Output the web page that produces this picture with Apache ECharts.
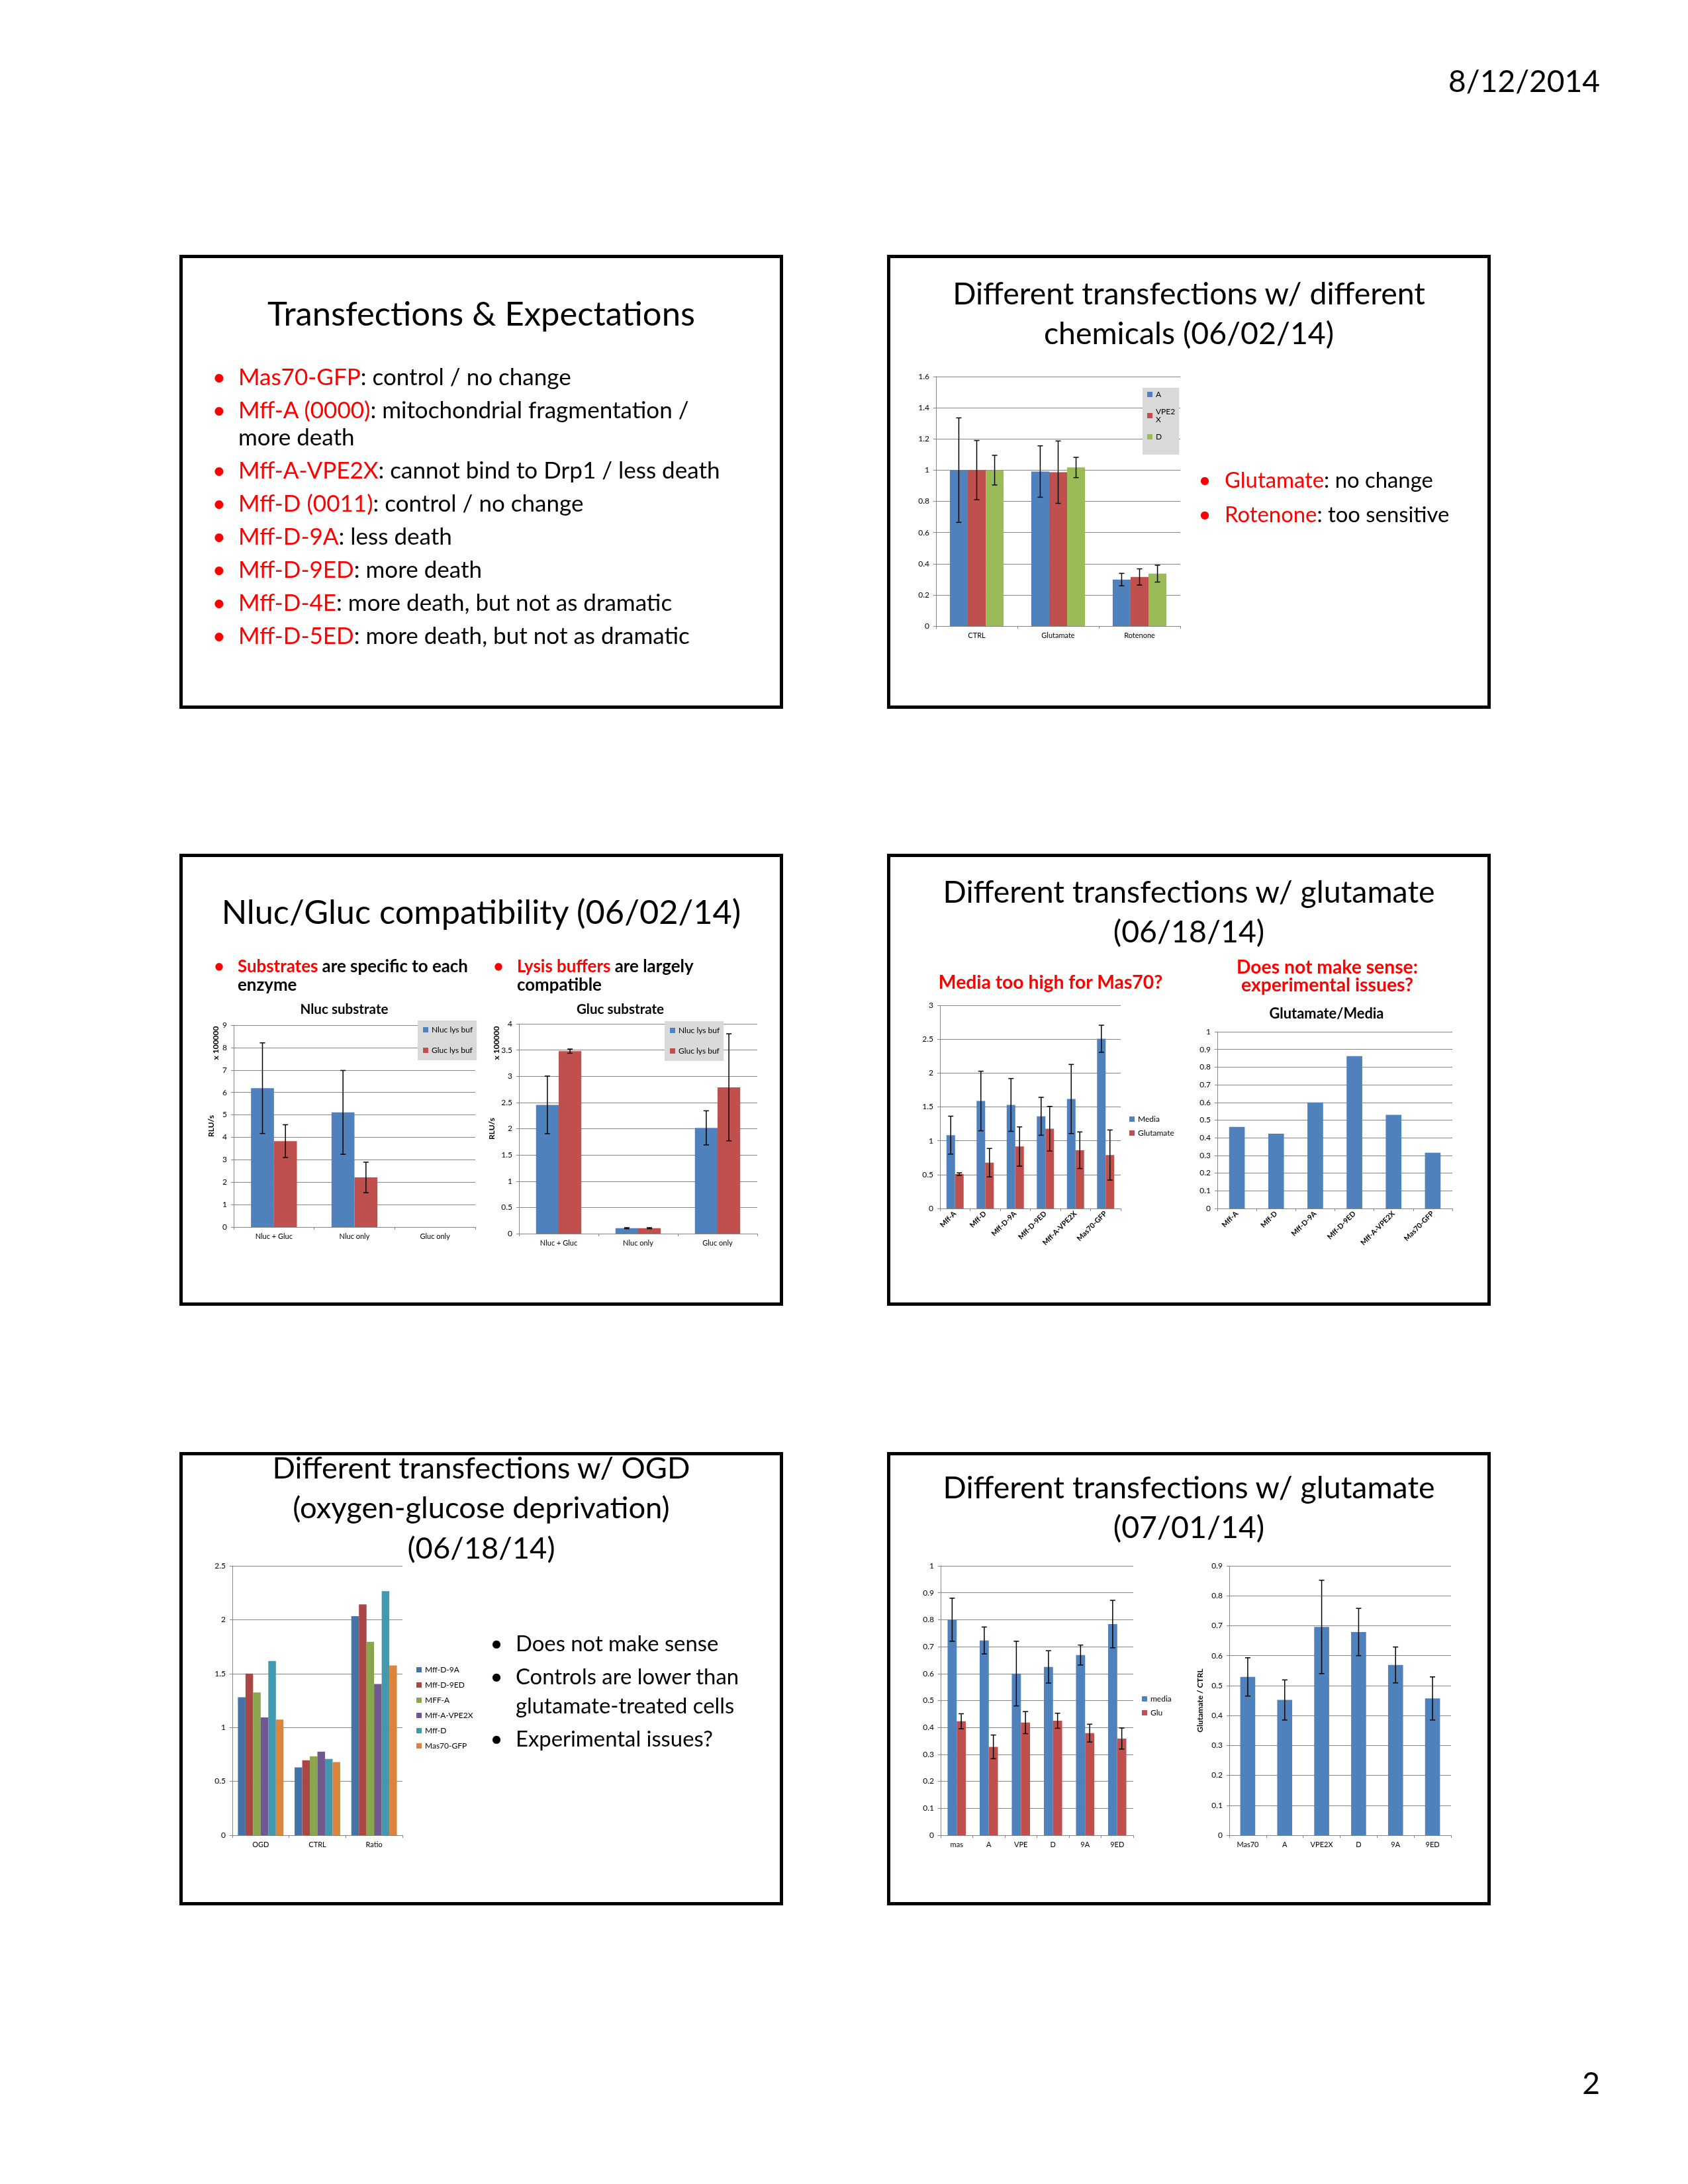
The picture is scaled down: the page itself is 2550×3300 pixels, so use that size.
<!DOCTYPE html>
<html><head><meta charset="utf-8">
<script src="https://cdn.jsdelivr.net/npm/echarts@6/dist/echarts.min.js"></script>
<style>
html,body{margin:0;padding:0;background:#fff;}
#page{position:relative;width:2550px;height:3300px;overflow:hidden;font-family:Lato,"Open Sans",sans-serif;}
#chart{position:absolute;left:0;top:0;width:2550px;height:3300px;z-index:0;}
.slide{position:absolute;border:5px solid #000;box-sizing:border-box;z-index:1;pointer-events:none;}
.t{position:absolute;white-space:nowrap;color:#000;line-height:1;z-index:2;}
</style></head>
<body><div id="page"><div id="chart"></div></div>
<script>
// ================= DATA =================
const chemCats = ['CTRL', 'Glutamate', 'Rotenone'];
const chemA = [1, 0.991, 0.298];
const chemAErr = [0.335, 0.165, 0.04];
const chemVPE = [1, 0.987, 0.315];
const chemVPEErr = [0.19, 0.2, 0.052];
const chemD = [1, 1.017, 0.336];
const chemDErr = [0.095, 0.065, 0.054];

const compatCats = ['Nluc + Gluc', 'Nluc only', 'Gluc only'];
const nlucSubNlucBuf = [6.19, 5.11, 0];
const nlucSubNlucBufErr = [2.02, 1.87, 0];
const nlucSubGlucBuf = [3.83, 2.21, 0];
const nlucSubGlucBufErr = [0.73, 0.68, 0];
const glucSubNlucBuf = [2.454, 0.104, 2.017];
const glucSubNlucBufErr = [0.55, 0.01, 0.325];
const glucSubGlucBuf = [3.479, 0.104, 2.79];
const glucSubGlucBufErr = [0.04, 0.01, 1.02];

const glu18Cats = ['Mff-A', 'Mff-D', 'Mff-D-9A', 'Mff-D-9ED', 'Mff-A-VPE2X', 'Mas70-GFP'];
const glu18Media = [1.083, 1.587, 1.529, 1.361, 1.617, 2.506];
const glu18MediaErr = [0.28, 0.44, 0.39, 0.28, 0.51, 0.2];
const glu18Glu = [0.508, 0.676, 0.915, 1.177, 0.86, 0.789];
const glu18GluErr = [0.018, 0.21, 0.29, 0.33, 0.27, 0.37];
const glu18Ratio = [0.462, 0.423, 0.6, 0.862, 0.53, 0.316];

const ogdCats = ['OGD', 'CTRL', 'Ratio'];
const ogdNames = ['Mff-D-9A', 'Mff-D-9ED', 'MFF-A', 'Mff-A-VPE2X', 'Mff-D', 'Mas70-GFP'];
const ogd9A = [1.28, 0.629, 2.033];
const ogd9ED = [1.5, 0.696, 2.142];
const ogdMffA = [1.325, 0.732, 1.795];
const ogdVPE2X = [1.093, 0.775, 1.404];
const ogdMffD = [1.617, 0.708, 2.265];
const ogdMas70 = [1.074, 0.678, 1.575];

const glu01Cats = ['mas', 'A', 'VPE', 'D', '9A', '9ED'];
const glu01Media = [0.8, 0.723, 0.6, 0.625, 0.669, 0.784];
const glu01MediaErr = [0.08, 0.05, 0.12, 0.06, 0.037, 0.088];
const glu01Glu = [0.423, 0.328, 0.418, 0.425, 0.379, 0.359];
const glu01GluErr = [0.028, 0.044, 0.041, 0.028, 0.033, 0.039];
const ratio01Cats = ['Mas70', 'A', 'VPE2X', 'D', '9A', '9ED'];
const ratio01 = [0.529, 0.452, 0.696, 0.679, 0.569, 0.457];
const ratio01Err = [0.064, 0.067, 0.156, 0.079, 0.06, 0.072];

// ================= STYLE =================
const FONT = 'Lato, "Open Sans", sans-serif';
const RED = '#ff0000';
const AX = '#868686';
const BLUE = '#4f81bd', DRED = '#c0504d', GREEN = '#9bbb59';
const OGD_COLORS = ['#4572a7', '#aa4643', '#89a54e', '#71588f', '#4198af', '#db843d'];

const page = document.getElementById('page');
const mctx = document.createElement('canvas').getContext('2d');
function measure(t, wt) { mctx.font = wt + ' 100px ' + FONT; return mctx.measureText(t).width; }
function fit(t, wt, w) { return 100 * w / measure(t, wt); }
function put(segs, x, y, size, align, weight) {
  const d = document.createElement('div');
  d.className = 't';
  d.style.left = x + 'px'; d.style.top = y + 'px';
  d.style.fontSize = size + 'px'; d.style.fontWeight = weight || 400;
  const tx = align === 'center' ? '-50%' : (align === 'right' ? '-100%' : '0');
  d.style.transform = 'translate(' + tx + ',-50%)';
  segs.forEach(s => { const sp = document.createElement('span'); sp.textContent = s[0]; if (s[1]) sp.style.color = s[1]; d.appendChild(sp); });
  page.appendChild(d);
}
function frame(l, t, r, b) {
  const d = document.createElement('div'); d.className = 'slide';
  d.style.left = l + 'px'; d.style.top = t + 'px'; d.style.width = (r - l) + 'px'; d.style.height = (b - t) + 'px';
  page.appendChild(d);
}

// slide frames
frame(271, 385, 1183, 1071); frame(1340, 385, 2252, 1071);
frame(271, 1290, 1183, 1973); frame(1340, 1290, 2252, 1973);
frame(271, 2194, 1183, 2879); frame(1340, 2194, 2252, 2879);

// header / footer
const dateSize = fit('8/12/2014', 400, 229);
put([['8/12/2014']], 2417, 121, dateSize, 'right');
put([['2']], 2417, 3146, dateSize, 'right');

// titles
const t1 = fit('Transfections & Expectations', 400, 646);
put([['Transfections & Expectations']], 727, 473, t1, 'center');
const t2 = fit('Different transfections w/ different', 400, 715);
put([['Different transfections w/ different']], 1796, 442, t2, 'center');
put([['chemicals (06/02/14)']], 1796, 502, t2, 'center');
const t3 = fit('Nluc/Gluc compatibility (06/02/14)', 400, 786);
put([['Nluc/Gluc compatibility (06/02/14)']], 727, 1377, t3, 'center');
const t4 = fit('Different transfections w/ glutamate', 400, 744);
put([['Different transfections w/ glutamate']], 1796, 1346, t4, 'center');
put([['(06/18/14)']], 1796, 1406, t4, 'center');
const t5 = fit('Different transfections w/ OGD', 400, 632);
put([['Different transfections w/ OGD']], 727, 2217, t5, 'center');
put([['(oxygen-glucose deprivation)']], 727, 2277, t5, 'center');
put([['(06/18/14)']], 727, 2338, t5, 'center');
put([['Different transfections w/ glutamate']], 1796, 2246, t4, 'center');
put([['(07/01/14)']], 1796, 2306, t4, 'center');

// slide 1 bullets
const b1 = fit('Mff-A (0000): mitochondrial fragmentation /', 400, 682);
const s1 = [
  [569, [['Mas70-GFP', RED], [': control / no change']], true],
  [619, [['Mff-A (0000)', RED], [': mitochondrial fragmentation /']], true],
  [660, [['more death']], false],
  [710, [['Mff-A-VPE2X', RED], [': cannot bind to Drp1 / less death']], true],
  [760, [['Mff-D (0011)', RED], [': control / no change']], true],
  [810, [['Mff-D-9A', RED], [': less death']], true],
  [860, [['Mff-D-9ED', RED], [': more death']], true],
  [910, [['Mff-D-4E', RED], [': more death, but not as dramatic']], true],
  [960, [['Mff-D-5ED', RED], [': more death, but not as dramatic']], true]
];
s1.forEach(r => { if (r[2]) put([['\u2022', RED]], 331, r[0], b1, 'center'); put(r[1], 360, r[0], b1, 'left'); });

// slide 2 bullets
const b2 = fit('Glutamate: no change', 400, 315);
put([['\u2022', RED]], 1820, 725, b2, 'center');
put([['Glutamate', RED], [': no change']], 1850, 725, b2, 'left');
put([['\u2022', RED]], 1820, 777, b2, 'center');
put([['Rotenone', RED], [': too sensitive']], 1850, 777, b2, 'left');

// slide 3 bullets
const b3 = fit('Substrates are specific to each', 700, 348);
put([['\u2022', RED]], 331, 1460, b3, 'center', 700);
put([['Substrates', RED], [' are specific to each']], 359, 1460, b3, 'left', 700);
put([['enzyme']], 359, 1488, b3, 'left', 700);
put([['\u2022', RED]], 753, 1460, b3, 'center', 700);
put([['Lysis buffers', RED], [' are largely']], 781, 1460, b3, 'left', 700);
put([['compatible']], 781, 1488, b3, 'left', 700);

// slide 4 red notes
const b4 = fit('Media too high for Mas70?', 700, 339);
put([['Media too high for Mas70?', RED]], 1587, 1483, b4, 'center', 700);
put([['Does not make sense:', RED]], 2005, 1460, b4, 'center', 700);
put([['experimental issues?', RED]], 2005, 1487, b4, 'center', 700);

// slide 5 bullets
const b5 = fit('Controls are lower than', 400, 338);
put([['\u2022']], 750, 2483, b5, 'center'); put([['Does not make sense']], 779, 2483, b5, 'left');
put([['\u2022']], 750, 2533, b5, 'center'); put([['Controls are lower than']], 779, 2533, b5, 'left');
put([['glutamate-treated cells']], 779, 2577, b5, 'left');
put([['\u2022']], 750, 2627, b5, 'center'); put([['Experimental issues?']], 779, 2627, b5, 'left');

// ================= CHART =================
const grids = [
  {left: 1414, top: 569, width: 369, height: 377},
  {left: 353, top: 1549, width: 365, height: 305},
  {left: 784, top: 1547, width: 360, height: 317},
  {left: 1420, top: 1519, width: 273, height: 307},
  {left: 1839, top: 1559, width: 355, height: 267},
  {left: 351, top: 2366, width: 257, height: 407},
  {left: 1421, top: 2366, width: 291, height: 407},
  {left: 1857, top: 2366, width: 335, height: 407}
];
function yAx(gi, max, interval, extra) {
  return Object.assign({
    type: 'value', gridIndex: gi, min: 0, max: max, interval: interval,
    axisLine: {show: true, lineStyle: {color: AX, width: 1}},
    axisTick: {show: true, length: 4, lineStyle: {color: AX}},
    splitLine: {show: true, lineStyle: {color: AX, width: 1}},
    axisLabel: {color: '#000', fontSize: 12, fontFamily: FONT, margin: 10}
  }, extra || {});
}
function xAx(gi, data, label) {
  return {
    type: 'category', gridIndex: gi, data: data,
    axisLine: {show: true, lineStyle: {color: AX, width: 1}},
    axisTick: {show: true, length: 4, alignWithLabel: false, interval: 0, lineStyle: {color: AX}},
    axisLabel: Object.assign({color: '#000', fontSize: 11, fontFamily: FONT, margin: 9, interval: 0}, label || {})
  };
}
function bars(gi, name, data, color, width) {
  return {type: 'bar', name: name, xAxisIndex: gi, yAxisIndex: gi, data: data,
    barWidth: width, barGap: '0%', itemStyle: {color: color}, silent: true};
}
function errs(gi, vals, es, idx, n, frac) {
  return {
    type: 'custom', xAxisIndex: gi, yAxisIndex: gi, z: 10, silent: true,
    data: vals.map((v, i) => [i, v, es[i]]),
    encode: {x: 0, y: 1},
    renderItem: function (params, api) {
      const i = api.value(0), v = api.value(1), e = api.value(2);
      if (!e) return null;
      const band = api.size([1, 0])[0];
      const bw = band * frac;
      const c = api.coord([i, v]);
      const x = c[0] + (idx - (n - 1) / 2) * bw;
      const yt = api.coord([i, v + e])[1], yb = api.coord([i, v - e])[1];
      const cap = 4, st = {stroke: '#000', lineWidth: 1.5};
      return {type: 'group', children: [
        {type: 'line', shape: {x1: x, y1: yt, x2: x, y2: yb}, style: st},
        {type: 'line', shape: {x1: x - cap, y1: yt, x2: x + cap, y2: yt}, style: st},
        {type: 'line', shape: {x1: x - cap, y1: yb, x2: x + cap, y2: yb}, style: st}
      ]};
    }
  };
}
const legTxt = {fontSize: 12, fontFamily: FONT, color: '#000'};
function leg(data, left, top, gap, extra) {
  return Object.assign({data: data, left: left, top: top, orient: 'vertical', icon: 'rect',
    itemWidth: 8, itemHeight: 8, itemGap: gap, padding: 0, textStyle: legTxt, selectedMode: false}, extra || {});
}
const rot = {rotate: 45, fontWeight: 'bold', margin: 6};

const ctSize = fit('Nluc substrate', 700, 133);
const ct3Size = fit('Glutamate/Media', 700, 173);
function gtext(txt, x, y, size, rotate) {
  return {type: 'text', x: x, y: y, rotation: rotate ? Math.PI / 2 : 0, z: 20,
    style: {text: txt, fill: '#000', font: 'bold ' + size + 'px ' + FONT, align: 'center', verticalAlign: 'middle'}};
}
const yName = {fontWeight: 'bold', fontSize: 12, fontFamily: FONT, color: '#000'};

const option = {
  animation: false,
  backgroundColor: 'transparent',
  grid: grids,
  xAxis: [
    xAx(0, chemCats), xAx(1, compatCats), xAx(2, compatCats), xAx(3, glu18Cats, rot),
    xAx(4, glu18Cats, rot), xAx(5, ogdCats), xAx(6, glu01Cats), xAx(7, ratio01Cats)
  ],
  yAxis: [
    yAx(0, 1.6, 0.2),
    yAx(1, 9, 1, {name: 'RLU/s', nameLocation: 'middle', nameRotate: 90, nameGap: 28, nameTextStyle: yName}),
    yAx(2, 4, 0.5, {name: 'RLU/s', nameLocation: 'middle', nameRotate: 90, nameGap: 35, nameTextStyle: yName}),
    yAx(3, 3, 0.5), yAx(4, 1, 0.1), yAx(5, 2.5, 0.5), yAx(6, 1, 0.1),
    yAx(7, 0.9, 0.1, {name: 'Glutamate / CTRL', nameLocation: 'middle', nameRotate: 90, nameGap: 38, nameTextStyle: yName})
  ],
  legend: [
    leg(['A', 'VPE2X', 'D'], 1726, 586, 14, {padding: [4, 6, 21, 7], backgroundColor: '#d9d9d9',
      formatter: n => n === 'VPE2X' ? 'VPE2\nX' : n}),
    leg(['Nluc lys buf', 'Gluc lys buf'], 631, 1542, 19, {padding: [8, 6, 9, 8], backgroundColor: '#d9d9d9'}),
    leg(['Nluc lys buf', 'Gluc lys buf'], 1004, 1543, 19, {padding: [8, 6, 9, 8], backgroundColor: '#d9d9d9'}),
    leg(['Media', 'Glutamate'], 1706, 1685, 9),
    leg(ogdNames, 629, 2517, 11),
    leg(['media', 'Glu'], 1725, 2561, 9)
  ],
  graphic: [
    gtext('Nluc substrate', 520, 1525, ctSize),
    gtext('Gluc substrate', 937, 1525, ctSize),
    gtext('Glutamate/Media', 2004, 1532, ct3Size),
    gtext('x 100000', 326, 1576, 12, true),
    gtext('x 100000', 750, 1576, 12, true)
  ],
  series: [
    bars(0, 'A', chemA, BLUE, '22%'), bars(0, 'VPE2X', chemVPE, DRED, '22%'), bars(0, 'D', chemD, GREEN, '22%'),
    errs(0, chemA, chemAErr, 0, 3, 0.22), errs(0, chemVPE, chemVPEErr, 1, 3, 0.22), errs(0, chemD, chemDErr, 2, 3, 0.22),

    bars(1, 'Nluc lys buf', nlucSubNlucBuf, BLUE, '28.5%'), bars(1, 'Gluc lys buf', nlucSubGlucBuf, DRED, '28.5%'),
    errs(1, nlucSubNlucBuf, nlucSubNlucBufErr, 0, 2, 0.285), errs(1, nlucSubGlucBuf, nlucSubGlucBufErr, 1, 2, 0.285),

    bars(2, 'Nluc lys buf', glucSubNlucBuf, BLUE, '28.5%'), bars(2, 'Gluc lys buf', glucSubGlucBuf, DRED, '28.5%'),
    errs(2, glucSubNlucBuf, glucSubNlucBufErr, 0, 2, 0.285), errs(2, glucSubGlucBuf, glucSubGlucBufErr, 1, 2, 0.285),

    bars(3, 'Media', glu18Media, BLUE, '28.5%'), bars(3, 'Glutamate', glu18Glu, DRED, '28.5%'),
    errs(3, glu18Media, glu18MediaErr, 0, 2, 0.285), errs(3, glu18Glu, glu18GluErr, 1, 2, 0.285),

    bars(4, 'Glutamate/Media', glu18Ratio, BLUE, '40%'),

    bars(5, ogdNames[0], ogd9A, OGD_COLORS[0], '13.4%'),
    bars(5, ogdNames[1], ogd9ED, OGD_COLORS[1], '13.4%'),
    bars(5, ogdNames[2], ogdMffA, OGD_COLORS[2], '13.4%'),
    bars(5, ogdNames[3], ogdVPE2X, OGD_COLORS[3], '13.4%'),
    bars(5, ogdNames[4], ogdMffD, OGD_COLORS[4], '13.4%'),
    bars(5, ogdNames[5], ogdMas70, OGD_COLORS[5], '13.4%'),

    bars(6, 'media', glu01Media, BLUE, '28.4%'), bars(6, 'Glu', glu01Glu, DRED, '28.4%'),
    errs(6, glu01Media, glu01MediaErr, 0, 2, 0.284), errs(6, glu01Glu, glu01GluErr, 1, 2, 0.284),

    bars(7, 'Glutamate / CTRL', ratio01, BLUE, '40.5%'),
    errs(7, ratio01, ratio01Err, 0, 1, 0.405)
  ]
};
const chart = echarts.init(document.getElementById('chart'), null, {renderer: 'canvas'});
chart.setOption(option);
</script>
</body></html>
